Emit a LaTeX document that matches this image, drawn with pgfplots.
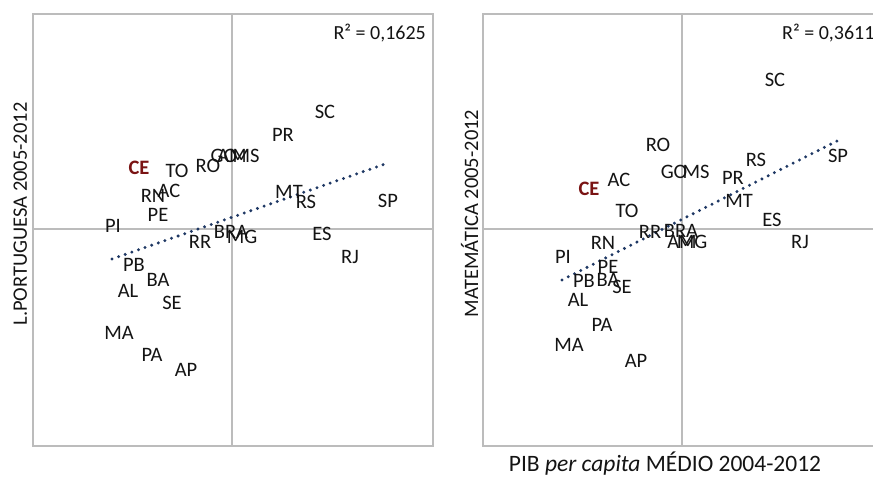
\documentclass[border=0pt]{standalone}
\usepackage{pgfplots}
\pgfplotsset{compat=1.18}
\usepackage{pgfplotstable}
\usepackage{fontspec}
\setmainfont{Carlito}
\definecolor{axgray}{RGB}{188,188,188}
\definecolor{trend}{RGB}{31,56,100}
\definecolor{cered}{RGB}{122,20,20}
\definecolor{labblack}{RGB}{20,20,20}

% x = PIB per capita (relative to mean), yl = L.Portuguesa, ym = Matematica
\pgfplotstableread{
lab x yl ym
PI -119 3 -28
MA -113 -104 -116
AL -104 -62 -71
PB -98 -36 -52
RN -79 33 -14
PA -80 -126 -96
PE -74 14 -38
BA -74 -51 -51
AC -63 38 49
SE -60 -74 -58
TO -55 58 18
AP -46 -141 -132
RR -32 -13 -3
RO -24 63 84
GO -8 73 57
AM 0 73 -13
BRA -1 -3 -2
MG 10 -8 -13
MS 14 73 57
PR 51 94 51
MT 57 37 28
RS 74 27 69
ES 90 -5 9
SC 93 117 149
RJ 118 -28 -13
SP 156 28 73
}\states
\pgfplotstableread{
lab x yl ym
CE -93 61 40
}\ce

\begin{document}
\begin{tikzpicture}[x=1pt,y=1pt]
\path[use as bounding box] (0,0) rectangle (873,478);
\clip (0,0) rectangle (873,478);
\pgfplotsset{
  quad/.style={
    width=400pt, height=432pt, scale only axis,
    xmin=-199, xmax=201, ymin=-217, ymax=215,
    xtick={0}, ytick={0}, xticklabels={}, yticklabels={},
    major tick length=0pt,
    xmajorgrids, ymajorgrids,
    grid style={axgray, line width=1.6pt},
    axis line style={axgray, line width=1.6pt},
    clip=false,
    nodes near coords align={center},
    every node near coord/.append style={font=\fontsize{20.5}{24}\selectfont, anchor=center, inner sep=0pt, text=labblack},
  },
  trendline/.style={trend, line width=3.3pt, line cap=round, dash pattern=on 0pt off 7pt},
}
% ---------- Left panel ----------
\begin{axis}[quad, at={(33pt,32pt)}, anchor=south west]
\addplot[trendline] coordinates {(-120,-30) (156,66)};
\addplot[only marks, mark=none, nodes near coords, point meta=explicit symbolic] table[x=x, y=yl, meta=lab] {\states};
\addplot[only marks, mark=none, nodes near coords, point meta=explicit symbolic,
  every node near coord/.append style={text=cered, font=\fontsize{20.5}{24}\selectfont\bfseries}] table[x=x, y=yl, meta=lab] {\ce};
\node[anchor=east, inner sep=0pt, font=\fontsize{20}{24}\selectfont, text=labblack] at (axis description cs:0.9825,0.956) {R² = 0,1625};
\node[anchor=base, rotate=90, inner sep=0pt, font=\fontsize{20.5}{24}\selectfont, text=labblack] at (axis description cs:-0.015,0.537) {L.PORTUGUESA 2005-2012};
\end{axis}
% ---------- Right panel ----------
\begin{axis}[quad, at={(483pt,32pt)}, anchor=south west]
\addplot[trendline] coordinates {(-120,-51) (155,88)};
\addplot[only marks, mark=none, nodes near coords, point meta=explicit symbolic] table[x=x, y=ym, meta=lab] {\states};
\addplot[only marks, mark=none, nodes near coords, point meta=explicit symbolic,
  every node near coord/.append style={text=cered, font=\fontsize{20.5}{24}\selectfont\bfseries}] table[x=x, y=ym, meta=lab] {\ce};
\node[anchor=west, inner sep=0pt, font=\fontsize{20}{24}\selectfont, text=labblack] at (axis description cs:0.7475,0.956) {R² = 0,3611};
\node[anchor=base, rotate=90, inner sep=0pt, font=\fontsize{20.5}{24}\selectfont, text=labblack] at (axis description cs:-0.0125,0.538) {MATEMÁTICA 2005-2012};
\node[anchor=base, inner sep=0pt, font=\fontsize{23.5}{28}\selectfont, text=labblack] at (axis description cs:0.455,-0.060) {PIB \textit{per capita} MÉDIO 2004-2012};
\end{axis}
\end{tikzpicture}
\end{document}
